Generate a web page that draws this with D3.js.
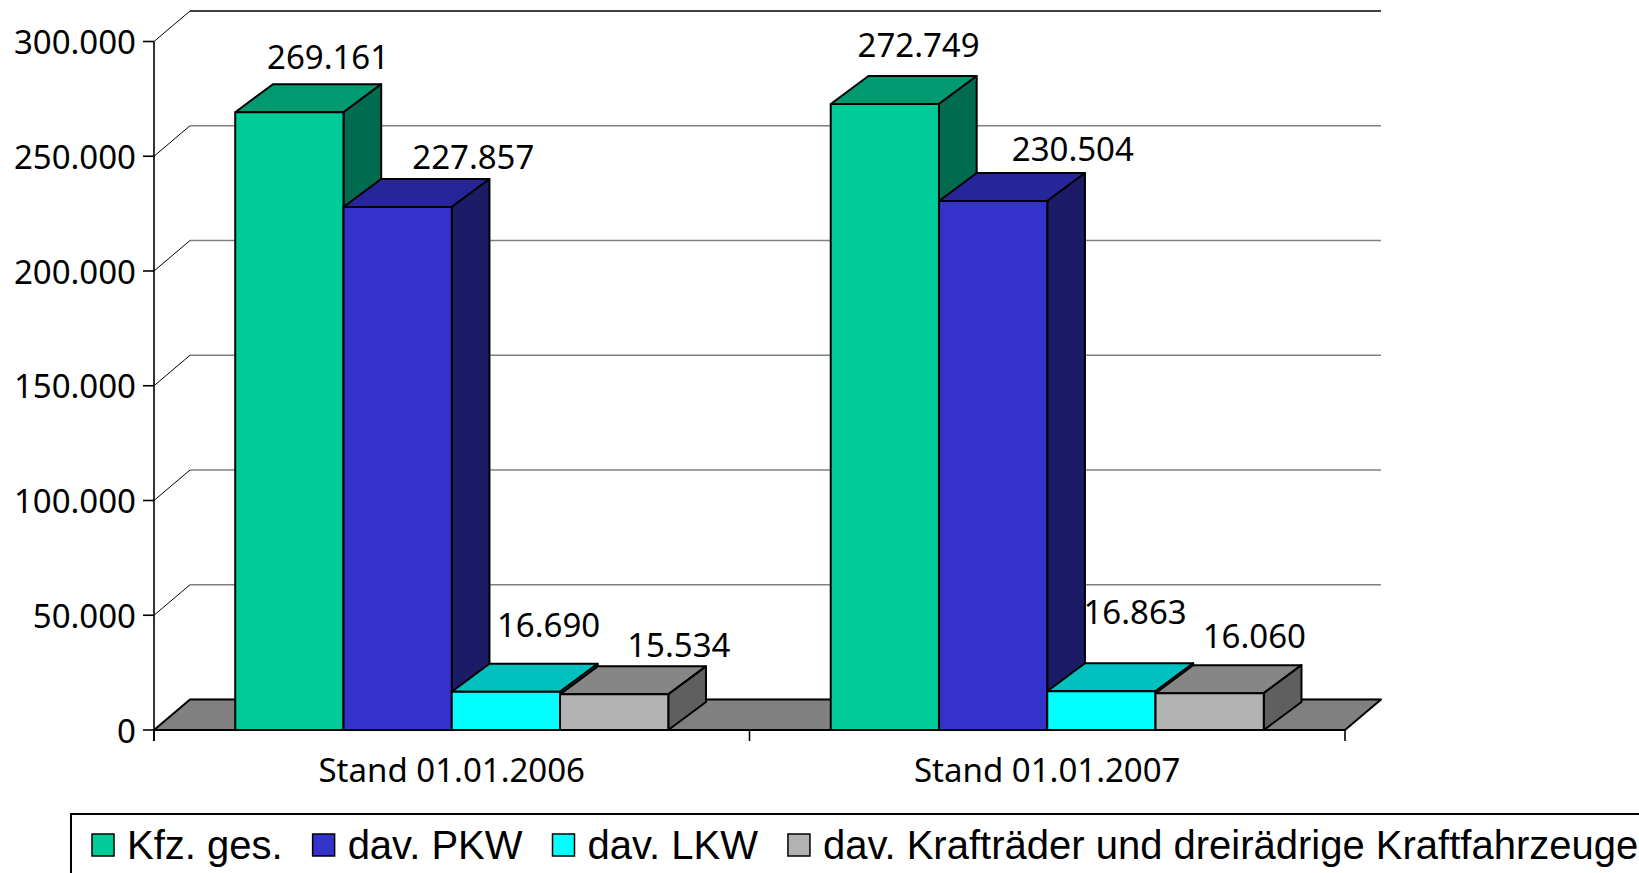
<!DOCTYPE html>
<html>
<head>
<meta charset="utf-8">
<script src="https://cdn.jsdelivr.net/npm/d3@7"></script>
<style>
  body { margin: 0; background: #fff; }
  svg { display: block; }
  .tick-label, .bar-label, .cat-label { font-family: "Noto Sans", sans-serif; font-size: 33px; fill: #000; }
  .legend-text { font-family: "Liberation Sans", Arial, sans-serif; font-size: 40px; fill: #000; }
</style>
</head>
<body>
<div id="chart"></div>
<script>
// Data
const categories = ["Stand 01.01.2006", "Stand 01.01.2007"];
const series = ["Kfz. ges.", "dav. PKW", "dav. LKW", "dav. Krafträder und dreirädrige Kraftfahrzeuge"];
const kfzGes = [269161, 272749];
const davPkw = [227857, 230504];
const davLkw = [16690, 16863];
const davKrad = [15534, 16060];
const yTicks = [0, 50000, 100000, 150000, 200000, 250000, 300000];

// Colours per series: front, top, side
const frontColors = ["#00cc99", "#3333cc", "#00ffff", "#b2b2b2"];
const topColors = ["#009970", "#26269a", "#00c0c0", "#868686"];
const sideColors = ["#006b4f", "#1c1c66", "#009999", "#5f5f5f"];

const values = [kfzGes, davPkw, davLkw, davKrad];

// label nudges (Excel labels were moved by hand)
const labelNudge = [
  [[1, -15], [38, -10], [5, -27], [27, -9]],
  [[-4, -19], [42, -12], [-4, -39], [7, -17]]
];

const width = 1639, height = 873;
const plotLeft = 154, plotRight = 1345, plotBottom = 730, plotTop = 41.5;
const wallDx = 36, wallDy = -30.5;   // depth of floor / walls
const barDx = 37.7, barDy = -28;     // depth of bars

const svg = d3.select('#chart').append('svg')
    .attr('width', width)
    .attr('height', height);

const y = d3.scaleLinear().domain([0, 300000]).range([plotBottom, plotTop]);
const x0 = d3.scaleBand().domain(categories).range([plotLeft, plotRight]);
const groupPad = x0.bandwidth() * 0.1364;
const x1 = d3.scaleBand().domain(series).range([groupPad, x0.bandwidth() - groupPad]);

const deFormat = d3.formatLocale({ decimal: ",", thousands: ".", grouping: [3], currency: ["", "€"] }).format(",d");

// back wall gridlines + diagonal lines on the side wall
yTicks.forEach((t, i) => {
    svg.append('line')
        .attr('x1', plotLeft + wallDx).attr('x2', plotRight + wallDx)
        .attr('y1', y(t) + wallDy).attr('y2', y(t) + wallDy)
        .attr('stroke', i === yTicks.length - 1 ? '#000' : '#808080')
        .attr('stroke-width', 1.4);
    if (t > 0) {
        svg.append('line')
            .attr('x1', plotLeft).attr('y1', y(t))
            .attr('x2', plotLeft + wallDx).attr('y2', y(t) + wallDy)
            .attr('stroke', '#000')
            .attr('stroke-width', 1);
    }
});

// floor
svg.append('polygon')
    .attr('points', [
        [plotLeft, y(0)], [plotLeft + wallDx, y(0) + wallDy],
        [plotRight + wallDx, y(0) + wallDy], [plotRight, y(0)]
    ].map(p => p.join(',')).join(' '))
    .attr('fill', '#808080')
    .attr('stroke', '#000')
    .attr('stroke-width', 2)
    .attr('stroke-linejoin', 'round');

// bars
const bars = [];
categories.forEach((c, ci) => {
    series.forEach((s, si) => {
        bars.push({ cat: c, ci: ci, si: si, value: values[si][ci] });
    });
});

const poly = pts => pts.map(p => p.join(',')).join(' ');

const barG = svg.selectAll('.bar')
    .data(bars)
    .enter()
    .append('g')
    .attr('class', 'bar');

barG.each(function (d) {
    const g = d3.select(this);
    const bx = x0(d.cat) + x1(series[d.si]);
    const bw = x1.bandwidth();
    const yt = y(d.value), yb = y(0);
    // top
    g.append('polygon')
        .attr('points', poly([[bx, yt], [bx + barDx, yt + barDy], [bx + bw + barDx, yt + barDy], [bx + bw, yt]]))
        .attr('fill', topColors[d.si]);
    // side
    g.append('polygon')
        .attr('points', poly([[bx + bw, yt], [bx + bw + barDx, yt + barDy], [bx + bw + barDx, yb + barDy], [bx + bw, yb]]))
        .attr('fill', sideColors[d.si]);
    // front
    g.append('rect')
        .attr('x', bx).attr('y', yt)
        .attr('width', bw).attr('height', yb - yt)
        .attr('fill', frontColors[d.si]);
    g.selectAll('polygon, rect')
        .attr('stroke', '#000')
        .attr('stroke-width', 2)
        .attr('stroke-linejoin', 'round');
});

// value labels
svg.selectAll('.bar-label')
    .data(bars)
    .enter()
    .append('text')
    .attr('class', 'bar-label')
    .attr('text-anchor', 'middle')
    .attr('x', d => x0(d.cat) + x1(series[d.si]) + x1.bandwidth() / 2 + barDx + labelNudge[d.ci][d.si][0])
    .attr('y', d => y(d.value) + barDy + labelNudge[d.ci][d.si][1])
    .text(d => deFormat(d.value));

// y axis
svg.append('line')
    .attr('x1', plotLeft).attr('x2', plotLeft)
    .attr('y1', plotTop).attr('y2', plotBottom + 11)
    .attr('stroke', '#000').attr('stroke-width', 1.6);

svg.selectAll('.ytick')
    .data(yTicks)
    .enter()
    .append('line')
    .attr('x1', plotLeft - 11).attr('x2', plotLeft)
    .attr('y1', d => y(d)).attr('y2', d => y(d))
    .attr('stroke', '#000').attr('stroke-width', 1.6);

svg.selectAll('.tick-label')
    .data(yTicks)
    .enter()
    .append('text')
    .attr('class', 'tick-label')
    .attr('text-anchor', 'end')
    .attr('dominant-baseline', 'central')
    .attr('x', plotLeft - 18)
    .attr('y', d => y(d))
    .text(d => deFormat(d));

// x axis
svg.append('line')
    .attr('x1', plotLeft).attr('x2', plotRight)
    .attr('y1', plotBottom).attr('y2', plotBottom)
    .attr('stroke', '#000').attr('stroke-width', 2);

const xTickPos = categories.map(c => x0(c)).concat([plotRight]);
svg.selectAll('.xtick')
    .data(xTickPos)
    .enter()
    .append('line')
    .attr('x1', d => d).attr('x2', d => d)
    .attr('y1', plotBottom).attr('y2', plotBottom + 11)
    .attr('stroke', '#000').attr('stroke-width', 1.6);

svg.selectAll('.cat-label')
    .data(categories)
    .enter()
    .append('text')
    .attr('class', 'cat-label')
    .attr('text-anchor', 'middle')
    .attr('x', d => x0(d) + x0.bandwidth() / 2)
    .attr('y', 782)
    .text(d => d);

// legend
svg.append('rect')
    .attr('x', 71).attr('y', 814)
    .attr('width', 1600).attr('height', 100)
    .attr('fill', '#fff')
    .attr('stroke', '#000')
    .attr('stroke-width', 2);

let lx = 92;
series.forEach((s, i) => {
    svg.append('rect')
        .attr('x', lx).attr('y', 834)
        .attr('width', 22).attr('height', 22)
        .attr('fill', frontColors[i])
        .attr('stroke', '#000')
        .attr('stroke-width', 1.5);
    const t = svg.append('text')
        .attr('class', 'legend-text')
        .attr('x', lx + 35)
        .attr('y', 859)
        .text(s);
    lx += 35 + t.node().getComputedTextLength() + 30;
});
</script>
</body>
</html>
